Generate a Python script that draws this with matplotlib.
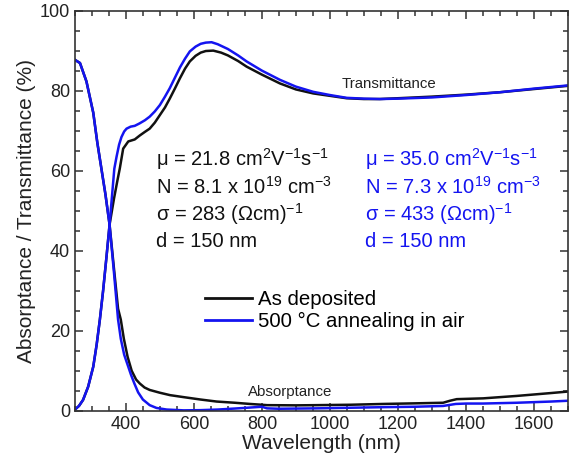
import matplotlib
matplotlib.use('Agg')
import matplotlib.pyplot as plt
from matplotlib.lines import Line2D
from matplotlib.ticker import MultipleLocator

plt.rcParams['font.family'] = ['Liberation Sans', 'DejaVu Sans']
plt.rcParams['mathtext.fontset'] = 'custom'
plt.rcParams['mathtext.rm'] = 'Liberation Sans'
plt.rcParams['mathtext.it'] = 'Liberation Sans:italic'

BLK = '#111111'
BLU = '#1414f0'
AXC = '#333333'

# transmittance, as deposited
t_dep_wl = [250, 262, 274, 289, 304, 314, 323.5, 333, 343, 352, 365, 375, 382, 392, 407,
            426, 441, 456, 470, 485, 500, 515, 529, 544, 559, 574, 588, 605, 620, 635,
            657, 680, 700, 730, 755, 800, 853, 900, 951, 1000, 1049, 1100, 1147, 1200,
            1300, 1400, 1500, 1600, 1700]
t_dep = [0.3, 1.2, 2.7, 6, 11, 16.5, 22.8, 30, 38.5, 46.5, 53, 57.5, 60.5, 65.5, 67.3,
         67.8, 68.8, 69.7, 70.5, 72, 73.9, 75.8, 78, 80.5, 83.1, 85.5, 87.3, 88.7, 89.5, 89.9,
         90, 89.5, 88.8, 87.4, 86, 84, 81.8, 80.3, 79.3, 78.7, 78.1, 77.9, 77.9, 78.1,
         78.5, 79, 79.6, 80.4, 81.2]

# transmittance, 500 C anneal
t_ann_wl = [250, 262, 274, 289, 304, 314, 323.5, 333, 343, 352, 359, 366, 372.6, 380, 387,
            395, 402, 414, 426, 440, 456, 470, 485, 500, 515, 529, 544, 559, 574, 588,
            605, 620, 635, 652, 670, 700, 730, 755, 800, 853, 900, 951, 1000, 1049, 1100,
            1147, 1200, 1300, 1400, 1500, 1600, 1700]
t_ann = [0.3, 1.2, 2.7, 6, 11, 16.5, 22.8, 30, 38.5, 46.5, 53.5, 60.5, 63.5, 66.5, 68.4,
         69.8, 70.5, 71, 71.2, 71.8, 72.6, 73.5, 74.8, 76.4, 78.5, 80.6, 83.2, 85.8, 88, 89.8,
         91, 91.7, 92.0, 92.1, 91.6, 90.4, 88.8, 87.3, 85, 82.7, 81, 79.7, 78.9, 78.2, 78.0,
         77.9, 78.0, 78.3, 78.9, 79.6, 80.5, 81.3]

# absorptance, as deposited
a_dep_wl = [250, 265, 284, 304, 316, 328, 340, 352, 365, 377, 385, 394, 405, 417, 430,
            441, 455, 470, 500, 530, 570, 620, 667, 720, 765, 800, 815, 900, 960, 1060,
            1157, 1250, 1333, 1353, 1373, 1451, 1549, 1647, 1700]
a_dep = [87.7, 86.9, 82.3, 74.5, 67, 60.5, 54, 46.5, 35.5, 25.5, 22.8, 18, 13.5, 10, 7.8,
         6.8, 5.8, 5.2, 4.5, 3.9, 3.4, 2.8, 2.3, 2.0, 1.7, 1.5, 1.4, 1.35, 1.4, 1.5,
         1.7, 1.85, 2.0, 2.5, 2.9, 3.1, 3.7, 4.4, 4.8]

# absorptance, 500 C anneal
a_ann_wl = [250, 265, 284, 304, 316, 328, 340, 352, 365, 377, 385, 395, 405, 415, 425,
            436, 450, 470, 490, 520, 570, 620, 670, 720, 765, 800, 815, 850, 960, 1060,
            1160, 1250, 1333, 1370, 1400, 1450, 1550, 1650, 1700]
a_ann = [87.7, 86.9, 82.3, 74.5, 67, 60.5, 54, 46.5, 34.5, 22.8, 18, 14, 11.5, 9, 6.8,
         4.6, 2.8, 1.4, 0.7, 0.3, 0.1, 0.15, 0.3, 0.55, 0.8, 1.0, 0.6, 0.5, 0.6, 0.75,
         0.9, 1.0, 1.2, 1.7, 1.8, 1.8, 2.0, 2.3, 2.5]

labels = ['As deposited', '500 \u00b0C annealing in air']

dep_text = ['\u03bc = 21.8 cm$^2$V$^{-1}$s$^{-1}$',
            'N = 8.1 x 10$^{19}$ cm$^{-3}$',
            '\u03c3 = 283 (\u03a9cm)$^{-1}$',
            'd = 150 nm']
ann_text = ['\u03bc = 35.0 cm$^2$V$^{-1}$s$^{-1}$',
            'N = 7.3 x 10$^{19}$ cm$^{-3}$',
            '\u03c3 = 433 (\u03a9cm)$^{-1}$',
            'd = 150 nm']

fig = plt.figure(figsize=(5.76, 4.61), dpi=100)
ax = fig.add_axes([0.130, 0.109, 0.856, 0.868])

ax.plot(t_dep_wl, t_dep, color=BLK, lw=1.8)
ax.plot(a_dep_wl, a_dep, color=BLK, lw=1.8)
ax.plot(t_ann_wl, t_ann, color=BLU, lw=1.8)
ax.plot(a_ann_wl, a_ann, color=BLU, lw=1.8)

ax.set_xlim(250, 1700)
ax.set_ylim(0, 100)
ax.xaxis.set_minor_locator(MultipleLocator(50))
ax.yaxis.set_major_locator(MultipleLocator(20))
ax.yaxis.set_minor_locator(MultipleLocator(5))
ax.set_xticks([400, 600, 800, 1000, 1200, 1400, 1600])
ax.tick_params(which='both', direction='in', top=True, right=True, colors=AXC,
               labelcolor='#222222', width=1.1)
ax.tick_params(which='major', length=6, labelsize=13)
ax.tick_params(which='minor', length=3.5)
for s in ax.spines.values():
    s.set_color(AXC)
    s.set_linewidth(1.2)

ax.set_xlabel('Wavelength (nm)', fontsize=15, color='#222222', labelpad=1)
ax.set_ylabel('Absorptance / Transmittance (%)', fontsize=15, color='#222222', labelpad=3)

ax.text(1174, 81.6, 'Transmittance', fontsize=10.8, ha='center', va='center', color='#222222')
ax.text(883, 4.6, 'Absorptance', fontsize=10.8, ha='center', va='center', color='#222222')

ys = [61.2, 54.3, 47.4, 40.8]
for s, y in zip(dep_text, ys):
    ax.text(490, y, s, fontsize=14.5, color=BLK, va='baseline')
for s, y in zip(ann_text, ys):
    ax.text(1103, y, s, fontsize=14.5, color=BLU, va='baseline')

handles = [Line2D([], [], color=BLK, lw=2), Line2D([], [], color=BLU, lw=2)]
ax.legend(handles, labels, loc='center left', bbox_to_anchor=(0.264, 0.25),
          frameon=False, fontsize=14.7, handlelength=2.3, handletextpad=0.3,
          borderpad=0, borderaxespad=0, labelspacing=0.15)

fig.savefig('out.png', dpi=100)
